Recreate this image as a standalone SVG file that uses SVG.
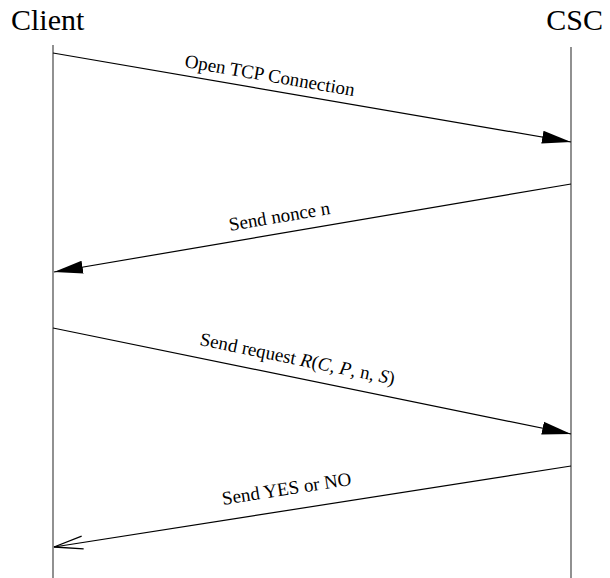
<svg xmlns="http://www.w3.org/2000/svg" width="610" height="578" viewBox="0 0 610 578">
  <style>
    .actor { font-family: "Liberation Serif", "Times New Roman", serif; font-size: 30px; fill: #000; }
    .msg { font-family: "Liberation Serif", "Times New Roman", serif; font-size: 19px; fill: #000; }
    .life { stroke: #555; stroke-width: 1.3; fill: none; }
    .arrow { stroke: #000; stroke-width: 1.2; fill: none; }
  </style>
  <defs>
    <marker id="solid" markerUnits="userSpaceOnUse" markerWidth="30" markerHeight="14" refX="29" refY="7" orient="auto">
      <path d="M0,0.5 L29,7 L0,13.5 Z" fill="#000"/>
    </marker>
    <marker id="open" markerUnits="userSpaceOnUse" markerWidth="32" markerHeight="16" refX="30" refY="8" orient="auto">
      <path d="M1,1.5 L30,8 L1,14.5" fill="none" stroke="#000" stroke-width="1.3"/>
    </marker>
  </defs>
  <rect width="610" height="578" fill="#fff"/>

  <g id="client">
    <text class="actor" x="11" y="30">Client</text>
    <line class="life" x1="53" y1="45" x2="53" y2="578"/>
  </g>
  <g id="csc">
    <text class="actor" x="603" y="30" text-anchor="end">CSC</text>
    <line class="life" x1="571" y1="47" x2="571" y2="578"/>
  </g>

  <g id="connectors">
    <line class="arrow" x1="53" y1="53" x2="571" y2="142" marker-end="url(#solid)"/>
    <line class="arrow" x1="571" y1="184" x2="54" y2="272" marker-end="url(#solid)"/>
    <line class="arrow" x1="53" y1="328" x2="571" y2="434" marker-end="url(#solid)"/>
    <line class="arrow" x1="571" y1="466" x2="54" y2="547" marker-end="url(#open)"/>
  </g>

  <g id="labels">
    <text class="msg" transform="translate(184,67) rotate(9.75)">Open TCP Connection</text>
    <text class="msg" transform="translate(230,231) rotate(-9.65)">Send nonce n</text>
    <text class="msg" transform="translate(199,345) rotate(11.56)">Send request <tspan font-style="italic">R</tspan>(<tspan font-style="italic">C</tspan>, <tspan font-style="italic">P</tspan>, n, <tspan font-style="italic">S</tspan>)</text>
    <text class="msg" transform="translate(223,505) rotate(-8.9)">Send YES or NO</text>
  </g>
</svg>
